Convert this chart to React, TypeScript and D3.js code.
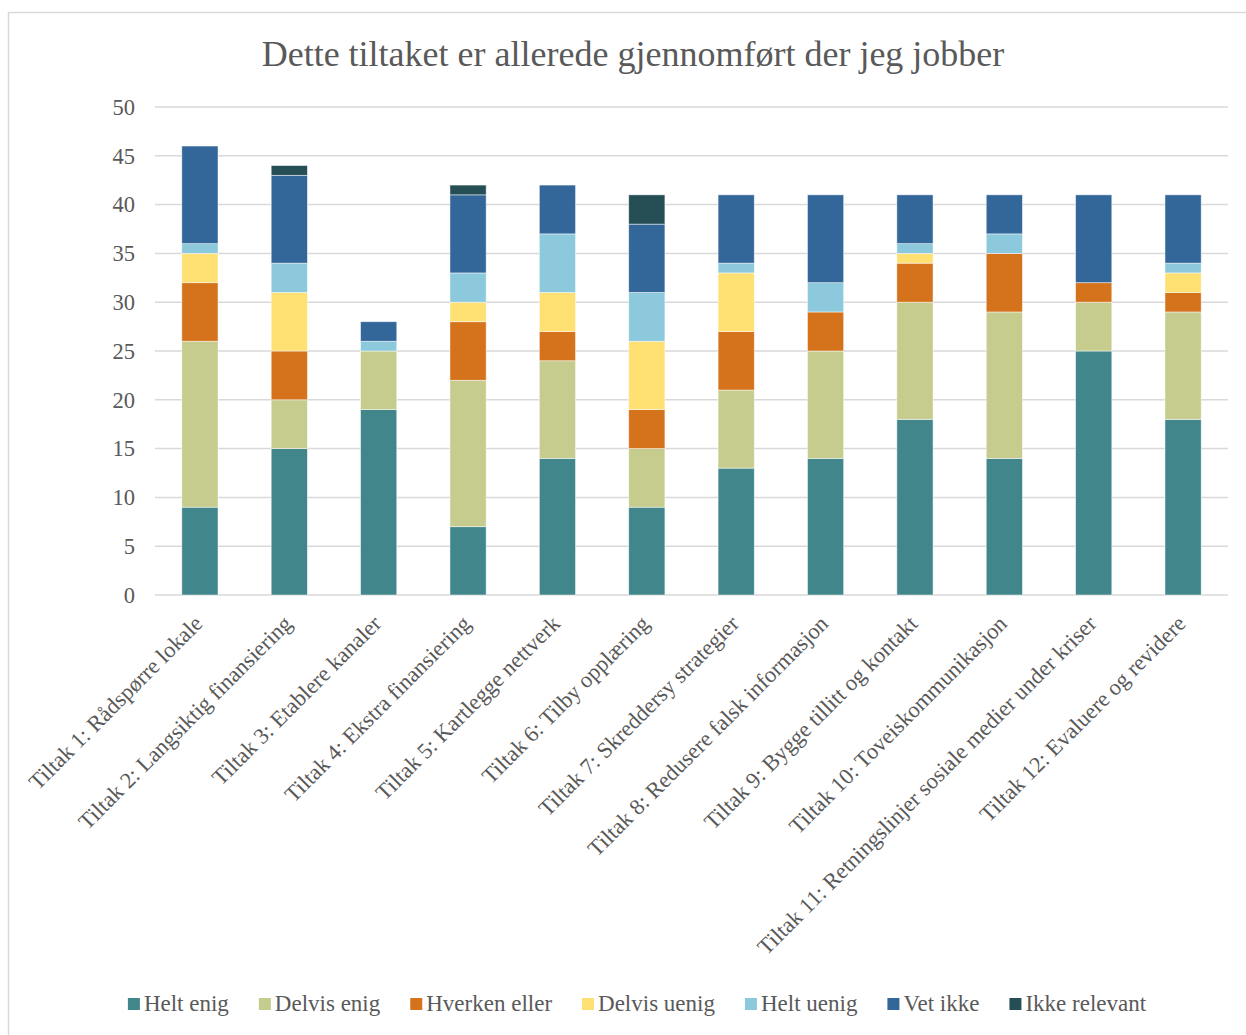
import React, { useEffect, useRef } from 'react';
import * as d3 from 'd3';

const title = 'Dette tiltaket er allerede gjennomført der jeg jobber';

const categories = [
  'Tiltak 1: Rådspørre lokale',
  'Tiltak 2: Langsiktig finansiering',
  'Tiltak 3: Etablere kanaler',
  'Tiltak 4: Ekstra finansiering',
  'Tiltak 5: Kartlegge nettverk',
  'Tiltak 6: Tilby opplæring',
  'Tiltak 7: Skreddersy strategier',
  'Tiltak 8: Redusere falsk informasjon',
  'Tiltak 9: Bygge tillitt og kontakt',
  'Tiltak 10: Toveiskommunikasjon',
  'Tiltak 11: Retningslinjer sosiale medier under kriser',
  'Tiltak 12: Evaluere og revidere',
];

const seriesNames = ['Helt enig', 'Delvis enig', 'Hverken eller', 'Delvis uenig', 'Helt uenig', 'Vet ikke', 'Ikke relevant'];
const seriesColors = ['#41868b', '#c6cc8e', '#d4731c', '#ffe072', '#8cc9dc', '#336699', '#264e55'];

const heltEnig = [9, 15, 19, 7, 14, 9, 13, 14, 18, 14, 25, 18];
const delvisEnig = [17, 5, 6, 15, 10, 6, 8, 11, 12, 15, 5, 11];
const hverkenEller = [6, 5, 0, 6, 3, 4, 6, 4, 4, 6, 2, 2];
const delvisUenig = [3, 6, 0, 2, 4, 7, 6, 0, 1, 0, 0, 2];
const heltUenig = [1, 3, 1, 3, 6, 5, 1, 3, 1, 2, 0, 1];
const vetIkke = [10, 9, 2, 8, 5, 7, 7, 9, 5, 4, 9, 7];
const ikkeRelevant = [0, 1, 0, 1, 0, 3, 0, 0, 0, 0, 0, 0];

const yTicks = [0, 5, 10, 15, 20, 25, 30, 35, 40, 45, 50];

const W = 1246;
const H = 1035;
const FONT = '"Liberation Serif", "DejaVu Serif", serif';
const TEXT = '#595959';

const App: React.FC = () => {
  const svgRef = useRef<SVGSVGElement>(null);

  useEffect(() => {
    if (!svgRef.current) return;
    const svg = d3.select(svgRef.current);
    svg.selectAll('*').remove();

    const left = 155;
    const right = 1228;
    const top = 107;
    const bottom = 595;

    const values = [heltEnig, delvisEnig, hverkenEller, delvisUenig, heltUenig, vetIkke, ikkeRelevant];
    const rows = categories.map((c, i) => {
      const row: any = { cat: c };
      seriesNames.forEach((s, k) => (row[s] = values[k][i]));
      return row;
    });

    const x = d3.scaleBand<string>().domain(categories).range([left, right]).paddingInner(0.595).paddingOuter(0.3);
    const y = d3.scaleLinear().domain([0, 50]).range([bottom, top]);
    const color = d3.scaleOrdinal<string, string>().domain(seriesNames).range(seriesColors);

    // chart border
    svg.append('rect')
      .attr('x', 8.5).attr('y', 12.5)
      .attr('width', W + 20).attr('height', H + 20)
      .attr('fill', 'white')
      .attr('stroke', '#d9d9d9').attr('stroke-width', 1.5);

    // title
    svg.append('text')
      .attr('x', 633).attr('y', 66)
      .attr('text-anchor', 'middle')
      .style('font-family', FONT).style('font-size', '36px')
      .attr('fill', TEXT)
      .text(title);

    // gridlines + y labels
    const grid = svg.append('g');
    yTicks.forEach(t => {
      grid.append('line')
        .attr('x1', left).attr('x2', right)
        .attr('y1', y(t)).attr('y2', y(t))
        .attr('stroke', '#d9d9d9').attr('stroke-width', 1.5);
      grid.append('text')
        .attr('x', 135).attr('y', y(t))
        .attr('dy', '0.35em')
        .attr('text-anchor', 'end')
        .style('font-family', FONT).style('font-size', '22.5px')
        .attr('fill', TEXT)
        .text(t);
    });

    // stacked bars
    const stack = d3.stack<any>().keys(seriesNames)(rows);
    svg.append('g')
      .selectAll('g')
      .data(stack)
      .enter().append('g')
      .attr('fill', d => color(d.key))
      .selectAll('rect')
      .data(d => d.filter(p => p[1] - p[0] > 0))
      .enter().append('rect')
      .attr('x', d => x(d.data.cat)!)
      .attr('width', x.bandwidth())
      .attr('y', d => y(d[1]))
      .attr('height', d => y(d[0]) - y(d[1]))
      .attr('stroke', 'white').attr('stroke-opacity', 0.6).attr('stroke-width', 0.8);

    // x labels
    svg.append('g')
      .selectAll('text')
      .data(categories)
      .enter().append('text')
      .attr('transform', d => `translate(${x(d)! + x.bandwidth() / 2 + 4}, ${bottom + 30}) rotate(-45)`)
      .attr('text-anchor', 'end')
      .style('font-family', FONT).style('font-size', '22.5px')
      .attr('fill', TEXT)
      .text(d => d);

    // legend
    const lg = svg.append('g');
    const items = seriesNames.map(name => {
      const g = lg.append('g');
      g.append('rect').attr('x', 0).attr('y', -13).attr('width', 12).attr('height', 12).attr('fill', color(name));
      const t = g.append('text')
        .attr('x', 16).attr('y', 0)
        .style('font-family', FONT).style('font-size', '23px')
        .attr('fill', TEXT)
        .text(name);
      const w = 16 + (t.node() as SVGTextElement).getComputedTextLength();
      return { g, w };
    });
    const gap = 30;
    const total = d3.sum(items, d => d.w) + gap * (items.length - 1);
    let cx = 637 - total / 2;
    items.forEach(it => {
      it.g.attr('transform', `translate(${cx}, 1011)`);
      cx += it.w + gap;
    });
  }, []);

  return (
    <div style={{ position: 'absolute', left: 0, top: 0, width: W, height: H, background: 'white' }}>
      <svg ref={svgRef} width={W} height={H}></svg>
    </div>
  );
};

export default App;
